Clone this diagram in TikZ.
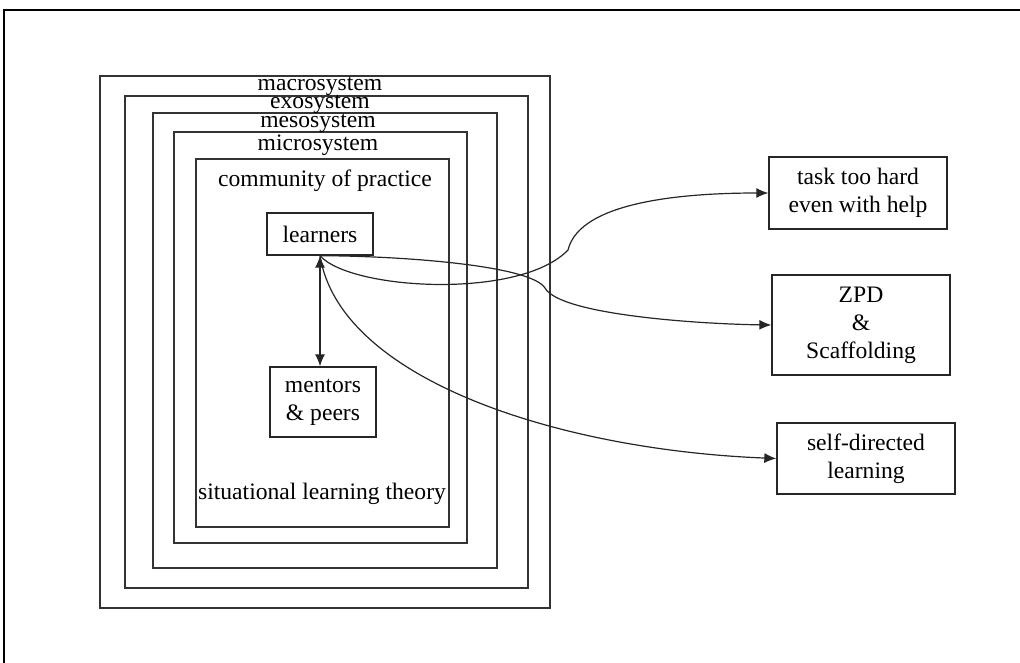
\documentclass[tikz,border=0pt]{standalone}
\usepackage{fontspec}
\setmainfont{Liberation Serif}
\usetikzlibrary{arrows.meta}
\begin{document}
\begin{tikzpicture}[x=0.75pt,y=-0.75pt,
  every node/.style={font=\fontsize{17.7}{21}\selectfont, inner sep=0pt},
  sysbox/.style={draw=black!80, line width=1.1pt, rectangle},
  lbl/.style={anchor=center},
  tbox/.style={draw=black!85, line width=1pt, rectangle, align=center},
  tip/.style={Latex[length=9pt,width=7.5pt]},
  conn/.style={line width=0.9pt, draw=black!85, -{Latex[length=9pt,width=7.5pt]}},
  frame/.style={line width=1.4pt, black}]
\useasboundingbox (0,0) rectangle (1020,663);
\draw[frame] (1020,10) -- (4,10) -- (4,663);

% nested system boxes
\node[sysbox, minimum width=450*0.75pt, minimum height=532*0.75pt] (macro) at (325,342) {};
\node[sysbox, minimum width=403*0.75pt, minimum height=492*0.75pt] (exo) at (326.5,342) {};
\node[sysbox, minimum width=344*0.75pt, minimum height=455*0.75pt] (meso) at (325,340.5) {};
\node[sysbox, minimum width=293*0.75pt, minimum height=411*0.75pt] (micro) at (320.5,337.5) {};
\node[sysbox, minimum width=253*0.75pt, minimum height=368*0.75pt] (cop) at (322.5,343) {};

\node[lbl] (lmacro) at (320,86) {macrosystem};
\node[lbl] (lexo) at (320,104) {exosystem};
\node[lbl] (lmeso) at (318,123) {mesosystem};
\node[lbl] (lmicro) at (318,145) {microsystem};
\node[lbl] (lcop) at (325,181) {community of practice};
\node[lbl] (lslt) at (322,494) {situational learning theory};

% inner nodes
\node[tbox, minimum width=106*0.75pt, minimum height=42*0.75pt] (learners) at (320,234) {learners};
\node[tbox, minimum width=106*0.75pt, minimum height=70*0.75pt] (mentors) at (323,402) {mentors\\\& peers};

% right boxes
\node[tbox, minimum width=178*0.75pt, minimum height=72*0.75pt] (task) at (858,193) {task too hard\\even with help};
\node[tbox, minimum width=178*0.75pt, minimum height=100*0.75pt] (zpd) at (861,325) {ZPD\\\&\\Scaffolding};
\node[tbox, minimum width=178*0.75pt, minimum height=71*0.75pt] (sdl) at (866,458.5) {self-directed\\learning};

% connectors
\draw[line width=0.9pt, draw=black!85, {Latex[length=9pt,width=7.5pt]}-{Latex[length=9pt,width=7.5pt]}]
  (learners.south) -- (learners.south |- mentors.north);
\draw[conn] (learners.south) .. controls (350,290) and (520,300) .. (568,250)
  .. controls (580,200) and (690,193) .. (task.west);
\draw[conn] (learners.south) .. controls (400,256) and (530,265) .. (545,288)
  .. controls (560,315) and (700,324) .. (zpd.west);
\draw[conn] (learners.south) .. controls (340,380) and (560,450) .. (sdl.west);
\end{tikzpicture}
\end{document}
